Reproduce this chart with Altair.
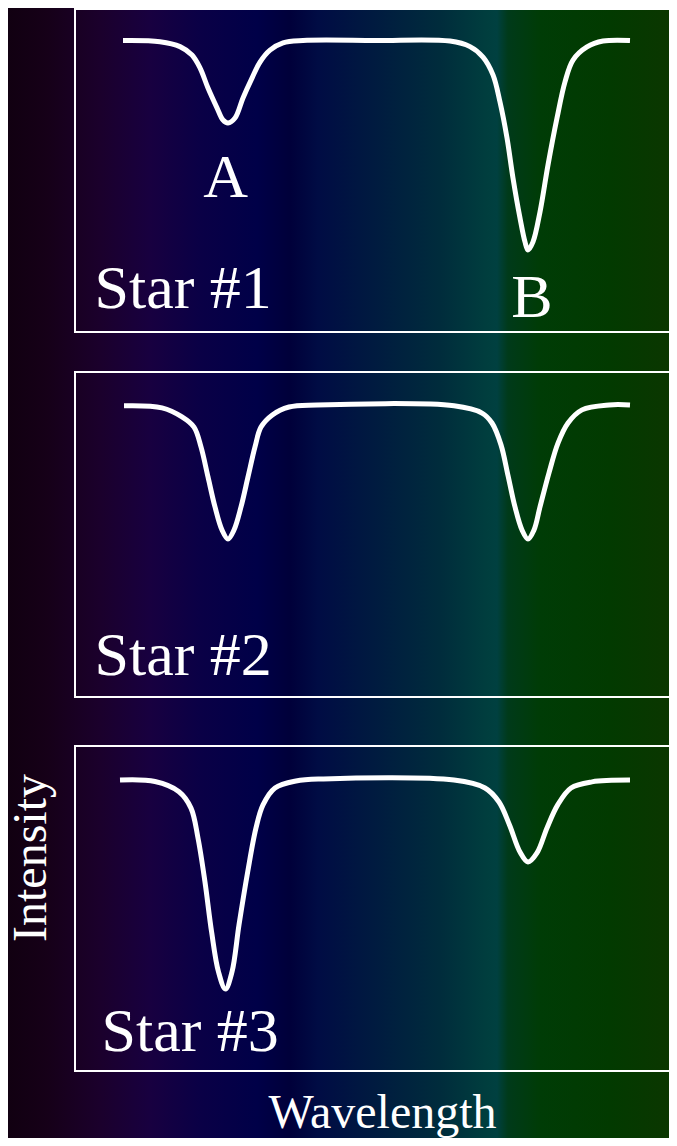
import altair as alt
import pandas as pd

# Relative wavelength (arbitrary units along the panel) and intensity (% of continuum)
star1_wl = [48, 85, 105, 117, 125, 133, 142, 148, 153, 160, 168, 177, 185, 195, 208, 228, 300,
            375, 395, 408, 418, 425, 432, 438, 445, 450, 453, 458, 465, 473, 482, 490, 498, 512, 528, 555]
star1_int = [100, 99.6, 97.9, 95.0, 90.6, 83.7, 76.9, 72.7, 71.7, 73.4, 80.3, 87.1, 92.6, 96.7, 99.2, 100, 100,
             99.8, 97.9, 94.3, 88.2, 78.9, 66.6, 52.8, 39.1, 30.9, 28.1, 30.9, 41.2, 57.3, 73.4, 85.8, 93.3, 97.8, 99.8, 100]

star2_wl = [49, 87, 107, 119, 126, 133, 140, 147, 153, 159, 166, 173, 180, 186, 197, 214, 242,
            379, 407, 417, 426, 433, 440, 447, 453, 459, 465, 474, 483, 493, 507, 534, 555]
star2_int = [99.9, 99.2, 96.1, 92.6, 85.8, 75.5, 65.2, 57.3, 54.2, 57.3, 65.2, 75.5, 85.8, 92.6, 96.7, 99.5, 100.2,
             99.9, 97.4, 94.0, 86.5, 76.0, 65.2, 57.3, 54.2, 57.3, 65.2, 76.9, 87.1, 94.0, 98.5, 100.2, 100.2]

star3_wl = [45, 80, 104, 116, 123, 130, 136.6, 143.5, 150.4, 157, 164, 172.7, 181, 188, 200, 221, 248.5,
            379, 410, 424, 434.5, 445, 453, 462, 472, 482.7, 496, 517, 555]
star3_int = [99.8, 99.3, 95.8, 90.2, 79.9, 64.8, 47.7, 34.0, 28.1, 34.0, 50.1, 68.3, 83.4, 91.3, 97.1, 99.5, 100.2,
             99.8, 97.1, 92.3, 84.4, 75.1, 71.7, 74.8, 83.4, 91.3, 97.1, 99.2, 99.8]

# Annotation labels: text, wavelength position, intensity position, alignment
star1_labels = ["A", "B", "Star #1"]
star1_label_wl = [150.7, 457, 19.5]
star1_label_int = [46.3, 5.25, 8.1]
star1_label_align = ["center", "center", "left"]

star2_labels = ["Star #2"]
star2_label_wl = [19.5]
star2_label_int = [7.5]
star2_label_align = ["left"]

star3_labels = ["Star #3"]
star3_label_wl = [26.5]
star3_label_int = [7.0]
star3_label_align = ["left"]

# Background spectrum colours (page x position, colour)
bg_pos = [8, 47, 100, 150, 200, 257, 290, 318, 372, 440, 487, 497, 508, 540, 610, 677]
bg_col = ["#110011", "#160018", "#1b002c", "#180040", "#0a0046", "#000048", "#00003a", "#000c44",
          "#001a40", "#002c3c", "#003e3e", "#004040", "#003a1a", "#003c06", "#023a00", "#0c3600"]

FONT = "Liberation Serif"
W = 602              # panel runs off the right edge of the page
BG_L, BG_R = -120, 610   # background band extent (relative to panel left)
BG_T, BG_B = -60, 480    # band overshoot above panel 1 / below panel 3
GAP = 40
SVG_W, SVG_H = 661, 1130  # page minus its 8px margins

# gradient is laid over BG_L..BG_R; page x = 75 + panel x
gradient = alt.Gradient(
    gradient="linear", x1=0, x2=1, y1=0, y2=0,
    stops=[alt.GradientStop(offset=round((p - 75 - BG_L) / (BG_R - BG_L), 4), color=c)
           for p, c in zip(bg_pos, bg_col)],
)

x_scale = alt.Scale(domain=[0, 602], nice=False, zero=False)

x_axis = alt.Axis(title="Wavelength", domain=False, ticks=False, labels=False, grid=False, zindex=2,
                  titleFont=FONT, titleFontSize=48, titleFontWeight="normal", titleColor="white",
                  titleBaseline="alphabetic", titleX=307, titleY=56, titleAlign="center", titlePadding=0)
y_axis = alt.Axis(title="Intensity", domain=False, ticks=False, labels=False, grid=False, zindex=2,
                  titleFont=FONT, titleFontSize=48, titleFontWeight="normal", titleColor="white",
                  titleAngle=270, titleX=-30, titleY=111.5, titleAlign="center",
                  titleBaseline="alphabetic", titlePadding=0)

one = pd.DataFrame({"k": [0]})


def panel(wl, inten, labels, lwl, lint, lalign, view_h, box_h, ydom, bg_top, bg_bottom, axes):
    y_scale = alt.Scale(domain=ydom, nice=False, zero=False)
    line_df = pd.DataFrame({"wl": wl, "int": inten})
    lab_df = pd.DataFrame({"wl": lwl, "int": lint, "label": labels, "align": lalign})
    xa = x_axis if axes else None
    ya = y_axis if axes else None
    bg = alt.Chart(one).mark_rect(fill=gradient, strokeWidth=0, clip=False).encode(
        x=alt.value(BG_L), x2=alt.value(BG_R), y=alt.value(bg_top), y2=alt.value(bg_bottom)
    )
    rule_style = dict(color="white", strokeWidth=2, clip=False)
    top = alt.Chart(one).mark_rule(**rule_style).encode(
        x=alt.value(0), x2=alt.value(W + 4), y=alt.value(0))
    bottom = alt.Chart(one).mark_rule(**rule_style).encode(
        x=alt.value(0), x2=alt.value(W + 4), y=alt.value(box_h))
    left = alt.Chart(one).mark_rule(**rule_style).encode(
        x=alt.value(0), y=alt.value(-1), y2=alt.value(box_h + 1))
    line = alt.Chart(line_df).mark_line(
        color="white", strokeWidth=5, interpolate="catmull-rom", strokeCap="butt", clip=False
    ).encode(
        x=alt.X("wl:Q", scale=x_scale, axis=xa),
        y=alt.Y("int:Q", scale=y_scale, axis=ya),
        order="wl:Q",
    )
    texts = []
    for al in ["left", "center"]:
        sub = lab_df[lab_df["align"] == al]
        if len(sub) == 0:
            continue
        texts.append(
            alt.Chart(sub).mark_text(
                font=FONT, fontSize=62, color="white", align=al, baseline="alphabetic"
            ).encode(
                x=alt.X("wl:Q", scale=x_scale, axis=xa),
                y=alt.Y("int:Q", scale=y_scale, axis=ya),
                text="label:N",
            )
        )
    return alt.layer(bg, top, bottom, left, line, *texts).properties(width=W, height=view_h)


# panel 1: page y 9..332 ; panel 2: 372..697 (view to 706) ; panel 3: 746..1071
p1 = panel(star1_wl, star1_int, star1_labels, star1_label_wl, star1_label_int, star1_label_align,
           323, 323, [0, 110.8], BG_T, 323 + GAP, False)
p2 = panel(star2_wl, star2_int, star2_labels, star2_label_wl, star2_label_int, star2_label_align,
           334, 325, [-3.09, 111.5], 0, 334 + GAP, False)
p3 = panel(star3_wl, star3_int, star3_labels, star3_label_wl, star3_label_int, star3_label_align,
           325, 325, [0, 111.5], 0, BG_B, True)

# background bands overshoot every other item; trim the svg to the page with negative padding
LAYOUT_H = 323 + GAP + 334 + GAP + BG_B      # layout y of the band's bottom edge
pad_left = 67 + BG_L                         # panels start 67 px into the svg
pad_right = SVG_W - (BG_R - BG_L) - pad_left
pad_top = 1 + BG_T
pad_bottom = SVG_H - (LAYOUT_H - BG_T) - pad_top
chart = alt.vconcat(p1, p2, p3, spacing=GAP, bounds="flush").properties(
    padding={"left": pad_left, "top": pad_top, "right": pad_right, "bottom": pad_bottom},
).configure(
    background="transparent"
).configure_view(
    strokeWidth=0, stroke="transparent"
)

chart.save("out.html", embed_options={"renderer": "svg", "actions": False})
